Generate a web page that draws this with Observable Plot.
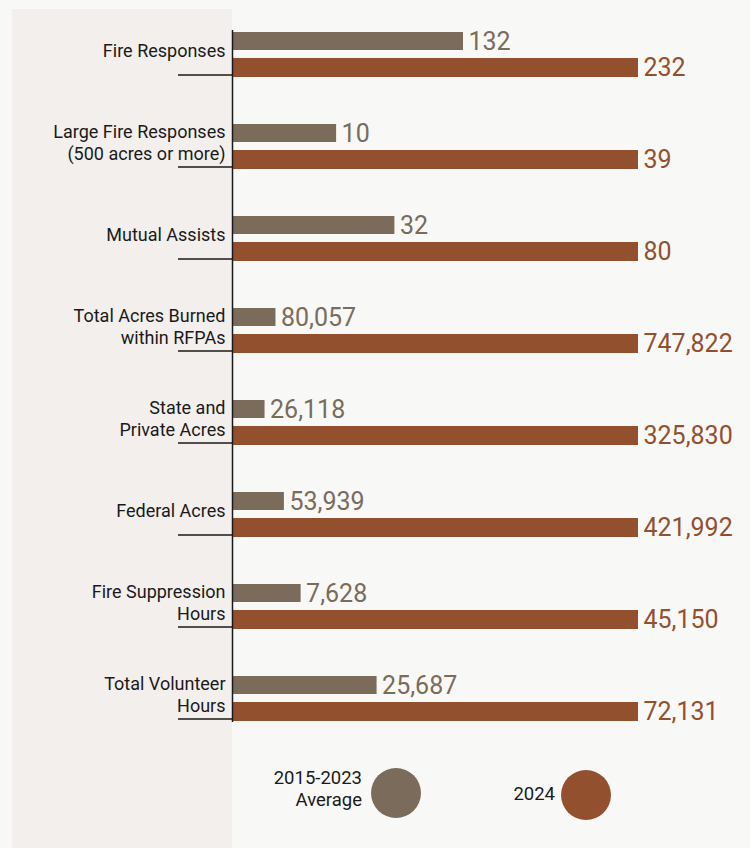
<!DOCTYPE html>
<html>
<head>
<meta charset="utf-8">
<script src="https://cdn.jsdelivr.net/npm/d3@7"></script>
<script src="https://cdn.jsdelivr.net/npm/@observablehq/plot@0.6"></script>
<style>
  html, body { margin: 0; padding: 0; background: #f8f8f6; }
  #wrap { position: relative; width: 750px; height: 848px; overflow: hidden; font-family: Roboto, "Noto Sans", sans-serif; }
  #panel { position: absolute; left: 12px; top: 9px; width: 220px; height: 839px; background: #f2efec; }
  #chart { position: absolute; left: 0; top: 0; }
  .leg { position: absolute; color: #1a1a1a; font-size: 18.5px; line-height: 22px; text-align: right; }
  .dot { position: absolute; width: 50px; height: 50px; border-radius: 50%; }
</style>
</head>
<body>
<div id="wrap">
  <div id="panel"></div>
  <div id="chart"></div>
  <div class="leg" style="right: 388px; top: 767px;">2015-2023<br>Average</div>
  <div class="dot" id="dotAvg" style="left: 371px; top: 768px;"></div>
  <div class="leg" style="right: 195px; top: 783px;">2024</div>
  <div class="dot" id="dotCur" style="left: 561px; top: 770px;"></div>
</div>
<script>
const categories = [
  "Fire Responses",
  "Large Fire Responses\n(500 acres or more)",
  "Mutual Assists",
  "Total Acres Burned\nwithin RFPAs",
  "State and\nPrivate Acres",
  "Federal Acres",
  "Fire Suppression\nHours",
  "Total Volunteer\nHours"
];
const avgValues = [132, 10, 32, 80057, 26118, 53939, 7628, 25687];
const values2024 = [232, 39, 80, 747822, 325830, 421992, 45150, 72131];
const seriesNames = ["2015-2023 Average", "2024"];
const avgColor = "#7a6b5b";
const curColor = "#93502f";

document.getElementById("dotAvg").style.background = avgColor;
document.getElementById("dotCur").style.background = curColor;

const rows = categories.map((c, i) => ({
  category: c,
  avg: avgValues[i],
  cur: values2024[i],
  avgShare: avgValues[i] / values2024[i],
  curShare: values2024[i] / values2024[i]
}));
const fmt = d3.format(",");

const chart = Plot.plot({
  width: 750,
  height: 740,
  marginLeft: 232,
  marginRight: 112,
  marginTop: 30,
  marginBottom: 18,
  style: { background: "transparent", fontFamily: "Roboto, 'Noto Sans', sans-serif", fontSize: "18px", color: "#1a1a1a" },
  x: { domain: [0, 1], axis: null },
  y: { domain: categories, paddingInner: 0.513, paddingOuter: 0 },
  marks: [
    Plot.barX(rows, { y: "category", x1: 0, x2: "avgShare", fill: avgColor, insetBottom: 27 }),
    Plot.barX(rows, { y: "category", x1: 0, x2: "curShare", fill: curColor, insetTop: 26 }),
    Plot.text(rows, { y: "category", x: "avgShare", text: d => fmt(d.avg), dx: 5, dy: -13.5, textAnchor: "start", fontSize: 25, fill: avgColor }),
    Plot.text(rows, { y: "category", x: "curShare", text: d => fmt(d.cur), dx: 5, dy: 13, textAnchor: "start", fontSize: 25, fill: curColor }),
    Plot.axisY({ tickSize: 54, tickFormat: () => "", dy: 20, stroke: "#1a1a1a", strokeWidth: 1.5, label: null }),
    Plot.text(rows, { y: "category", text: "category", frameAnchor: "left", textAnchor: "end", dx: -7, dy: -5, fontSize: 18, lineHeight: 1.22, fill: "#1a1a1a" }),
    Plot.ruleX([0], { stroke: "#1a1a1a", strokeWidth: 1.5 })
  ]
});
document.getElementById("chart").appendChild(chart);
</script>
</body>
</html>
